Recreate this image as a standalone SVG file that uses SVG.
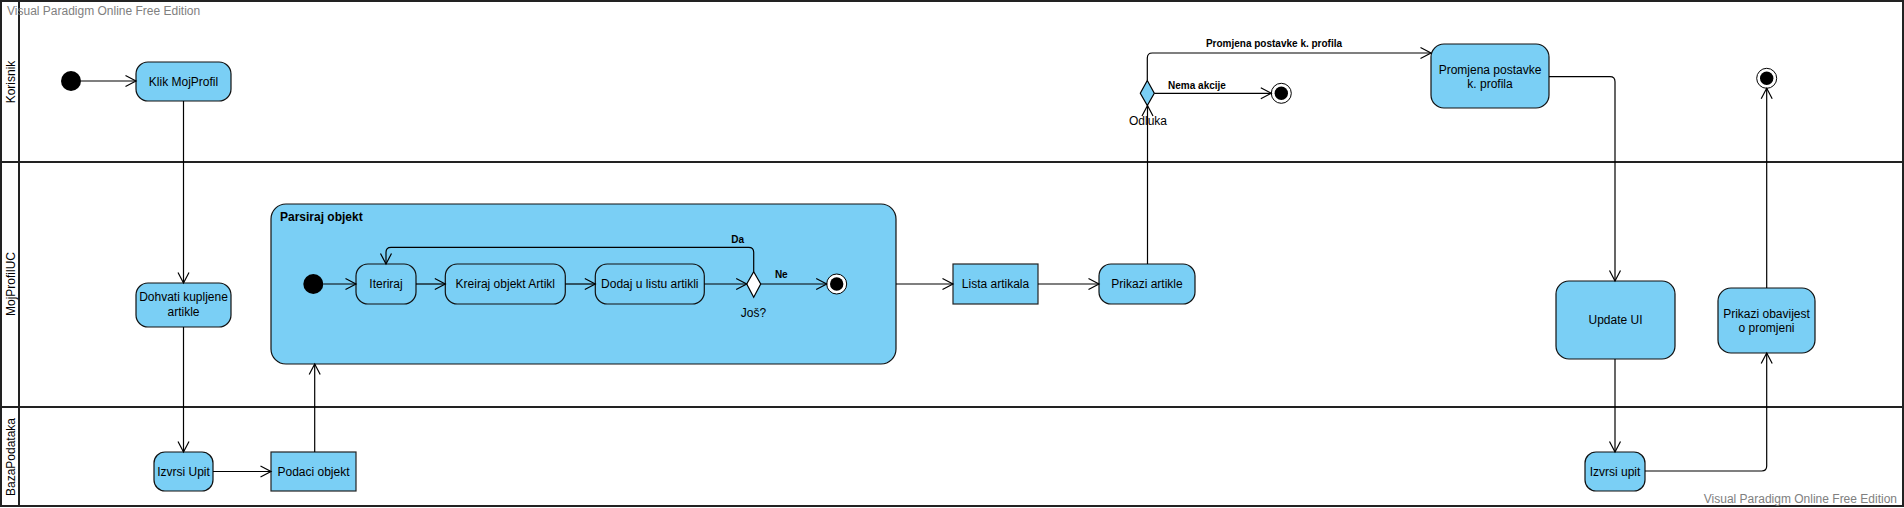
<svg xmlns="http://www.w3.org/2000/svg" width="1904" height="508" viewBox="0 0 1904 508">
<defs>
<marker id="arr" markerUnits="userSpaceOnUse" markerWidth="14" markerHeight="14" viewBox="0 0 14 14" refX="12" refY="7" orient="auto">
<path d="M1.5,1.5 L12,7 L1.5,12.5" fill="none" stroke="#000" stroke-width="1.2"/>
</marker>
<style>
.lane{fill:none;stroke:#222;stroke-width:2}
.act{fill:#7ACFF5;stroke:#111;stroke-width:1.2}
.obj{fill:#7ACFF5;stroke:#222;stroke-width:1.2}
.t{font-family:"Liberation Sans",Arial,sans-serif;font-size:12px;fill:#000;text-anchor:middle}
.b{font-family:"Liberation Sans",Arial,sans-serif;font-size:10px;font-weight:bold;fill:#000;text-anchor:middle}
.wm{font-family:"Liberation Sans",Arial,sans-serif;font-size:12px;fill:#808080}
.ln{font-family:"Liberation Sans",Arial,sans-serif;font-size:12px;fill:#000;text-anchor:middle}
.c{fill:none;stroke:#000;stroke-width:1.2;marker-end:url(#arr)}
</style>
</defs>
<rect width="1904" height="508" fill="#fff"/>
<g id="lanes">
<rect class="lane" x="1" y="1" width="1902" height="505"/>
<line class="lane" x1="19" y1="1" x2="19" y2="506"/>
<line class="lane" x1="1" y1="162" x2="1903" y2="162"/>
<line class="lane" x1="1" y1="407" x2="1903" y2="407"/>
<text class="ln" transform="translate(15,82) rotate(-90)">Korisnik</text>
<text class="ln" transform="translate(15,284) rotate(-90)">MojProfilUC</text>
<text class="ln" transform="translate(15,457) rotate(-90)">BazaPodataka</text>
</g>
<text class="wm" x="7" y="15">Visual Paradigm Online Free Edition</text>
<text class="wm" x="1897" y="503" text-anchor="end">Visual Paradigm Online Free Edition</text>
<g id="parsiraj">
<rect class="act" x="271" y="204" width="625" height="160" rx="15"/>
<text x="280" y="221" style="font-family:'Liberation Sans',Arial,sans-serif;font-size:12px;font-weight:bold">Parsiraj objekt</text>
</g>
<g id="start1"><circle cx="71" cy="81" r="10" fill="#000"/></g>
<g id="klik"><rect class="act" x="136" y="62" width="95" height="39" rx="12"/><text class="t" x="183.5" y="85.5">Klik MojProfil</text></g>
<g id="dohvati"><rect class="act" x="136" y="283" width="95" height="44" rx="12"/><text class="t" x="183.5" y="301">Dohvati kupljene</text><text class="t" x="183.5" y="316">artikle</text></g>
<g id="izvrsi1"><rect class="act" x="154" y="452" width="59" height="39" rx="11"/><text class="t" x="183.5" y="475.5">Izvrsi Upit</text></g>
<g id="podaci"><rect class="obj" x="271" y="452" width="85" height="39"/><text class="t" x="313.5" y="475.5">Podaci objekt</text></g>
<g id="start2"><circle cx="313.3" cy="284" r="10" fill="#000"/></g>
<g id="iteriraj"><rect class="act" x="356" y="264" width="60" height="40" rx="12"/><text class="t" x="386" y="288">Iteriraj</text></g>
<g id="kreiraj"><rect class="act" x="445.3" y="264" width="120" height="40" rx="12"/><text class="t" x="505.3" y="288">Kreiraj objekt Artikl</text></g>
<g id="dodaj"><rect class="act" x="595.3" y="264" width="109" height="40" rx="12"/><text class="t" x="649.8" y="288">Dodaj u listu artikli</text></g>
<g id="jos"><path d="M753.7,271.7 L760.7,284 L753.7,297.3 L746.7,284 Z" fill="#fff" stroke="#000" stroke-width="1.2"/><text class="t" x="753.5" y="317">Još?</text></g>
<g id="end1"><circle cx="836.7" cy="284" r="10" fill="#fff" stroke="#000" stroke-width="1"/><circle cx="836.7" cy="284" r="6.7" fill="#000"/></g>
<g id="lista"><rect class="obj" x="953" y="264" width="85" height="40"/><text class="t" x="995.5" y="288">Lista artikala</text></g>
<g id="prikazi"><rect class="act" x="1099" y="264" width="96" height="40" rx="12"/><text class="t" x="1147" y="288">Prikazi artikle</text></g>
<g id="odluka"><path d="M1147.3,80.5 L1154.3,93.3 L1147.3,105.5 L1140.3,93.3 Z" fill="#7ACFF5" stroke="#000" stroke-width="1.2"/><text class="t" x="1148" y="125">Odluka</text></g>
<g id="end2"><circle cx="1281.3" cy="93.3" r="10" fill="#fff" stroke="#000" stroke-width="1"/><circle cx="1281.3" cy="93.3" r="6.7" fill="#000"/></g>
<g id="promjena"><rect class="act" x="1431" y="44" width="118" height="64" rx="13"/><text class="t" x="1490" y="74">Promjena postavke</text><text class="t" x="1490" y="88">k. profila</text></g>
<g id="update"><rect class="act" x="1556" y="281" width="119" height="78" rx="13"/><text class="t" x="1615.5" y="324">Update UI</text></g>
<g id="izvrsi2"><rect class="act" x="1585" y="452" width="60" height="39" rx="11"/><text class="t" x="1615" y="475.5">Izvrsi upit</text></g>
<g id="obavijest"><rect class="act" x="1718" y="288" width="97" height="65" rx="13"/><text class="t" x="1766.5" y="318">Prikazi obavijest</text><text class="t" x="1766.5" y="332">o promjeni</text></g>
<g id="end3"><circle cx="1766.7" cy="78.3" r="10" fill="#fff" stroke="#000" stroke-width="1"/><circle cx="1766.7" cy="78.3" r="6.7" fill="#000"/></g>
<g id="connectors">
<path class="c" d="M81,81 L136,81"/>
<path class="c" d="M183.5,101 L183.5,283"/>
<path class="c" d="M183.5,327 L183.5,452"/>
<path class="c" d="M213,471.5 L271,471.5"/>
<path class="c" d="M314.7,452 L314.7,364"/>
<path class="c" d="M323.3,284 L356,284"/>
<path class="c" d="M416,284 L445.3,284"/>
<path class="c" d="M565.3,284 L595.3,284"/>
<path class="c" d="M704.3,284 L746.7,284"/>
<path class="c" d="M753.7,271.7 L753.7,252.3 Q753.7,247.3 748.7,247.3 L391,247.3 Q386,247.3 386,252.3 L386,264"/>
<text class="b" x="737.7" y="242.7">Da</text>
<path class="c" d="M760.7,284 L826.7,284"/>
<text class="b" x="781.3" y="278.3">Ne</text>
<path class="c" d="M896,284 L953,284"/>
<path class="c" d="M1038,284 L1099,284"/>
<path class="c" d="M1147.5,264 L1147.5,105.5"/>
<path class="c" d="M1147.3,80.5 L1147.3,58 Q1147.3,53 1152.3,53 L1431,53"/>
<text class="b" x="1274" y="47">Promjena postavke k. profila</text>
<path class="c" d="M1154.3,93.3 L1271.3,93.3"/>
<text class="b" x="1197" y="89">Nema akcije</text>
<path class="c" d="M1549,76.7 L1610,76.7 Q1615,76.7 1615,81.7 L1615,281"/>
<path class="c" d="M1615,359 L1615,452"/>
<path class="c" d="M1645,471 L1761.7,471 Q1766.7,471 1766.7,466 L1766.7,353"/>
<path class="c" d="M1766.7,288 L1766.7,88.3"/>
</g>
</svg>
